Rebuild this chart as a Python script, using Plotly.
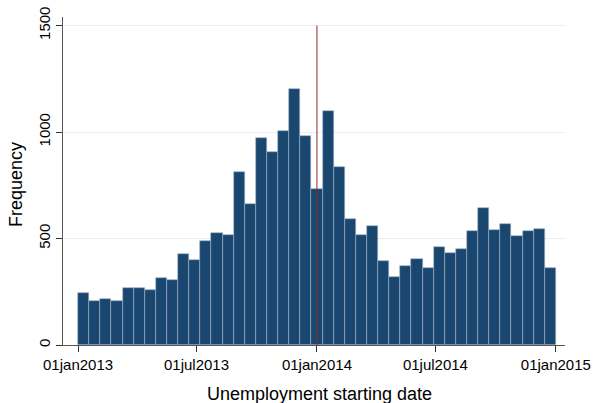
import datetime as dt
import plotly.graph_objects as go

# Data: histogram of unemployment starting dates (43 bins, Stata-style)
bin_start = "2013-01-01"
bin_end = "2014-12-31"
frequencies = [244, 205, 216, 205, 268, 269, 260, 315, 307, 426, 398, 490, 526, 518,
               811, 664, 971, 908, 1007, 1204, 979, 731, 1098, 836, 593, 517, 561, 395,
               321, 373, 404, 360, 462, 432, 449, 537, 645, 540, 570, 514, 534, 543, 362]
tick_dates = ["2013-01-01", "2013-07-01", "2014-01-01", "2014-07-01", "2015-01-01"]
tick_labels = ["01jan2013", "01jul2013", "01jan2014", "01jul2014", "01jan2015"]
y_ticks = [0, 500, 1000, 1500]
cutoff_date = "2014-01-01"
y_max = 1540

start = dt.datetime.fromisoformat(bin_start)
end = dt.datetime.fromisoformat(bin_end) + dt.timedelta(days=1)
n = len(frequencies)
w = (end - start) / n
centers = [(start + w * (i + 0.5)).isoformat() for i in range(n)]
width_ms = w.total_seconds() * 1000

font_family = "Liberation Sans, Arial, sans-serif"

fig = go.Figure()
fig.add_trace(go.Bar(
    x=centers, y=frequencies, width=[width_ms] * n,
    marker=dict(color="#1a476f", line=dict(color="#9fb2c6", width=0.6)),
    showlegend=False,
))

fig.add_shape(type="line", xref="x", yref="y", x0=cutoff_date, x1=cutoff_date,
              y0=0, y1=1500, line=dict(color="#8b2a2a", width=1))

fig.update_layout(
    width=596, height=403,
    margin=dict(l=63, r=31, t=17, b=58),
    plot_bgcolor="white", paper_bgcolor="white",
    bargap=0,
    font=dict(family=font_family, color="black", size=15),
    xaxis=dict(
        type="date",
        range=["2012-12-09", "2015-01-15"],
        tickvals=tick_dates, ticktext=tick_labels,
        ticks="outside", ticklen=6, tickcolor="#333333",
        showline=True, linecolor="#555555", linewidth=1,
        showgrid=False, zeroline=False,
        tickfont=dict(size=15),
        ticklabeloverflow="allow",
        automargin=False,
    ),
    yaxis=dict(
        range=[0, y_max],
        tickvals=y_ticks, ticktext=[str(v) for v in y_ticks],
        tickangle=-90,
        ticks="outside", ticklen=6, tickcolor="#333333",
        showline=True, linecolor="#555555", linewidth=1,
        showgrid=True, gridcolor="#e6eef0", gridwidth=1,
        zeroline=False,
        tickfont=dict(size=15),
        ticklabeloverflow="allow",
        automargin=False,
    ),
    annotations=[
        dict(text="Unemployment starting date", xref="paper", yref="paper",
             x=(319 - 63) / 502, y=-(394 - 345) / 328, xanchor="center", yanchor="middle",
             showarrow=False, font=dict(size=18)),
        dict(text="Frequency", xref="paper", yref="paper", textangle=-90,
             x=-(63 - 16) / 502, y=(345 - 185) / 328, xanchor="center", yanchor="middle",
             showarrow=False, font=dict(size=18)),
    ],
)

fig.write_html("out.html",
               config={"displayModeBar": False},
               post_script="document.body.style.margin='0';document.body.style.overflow='hidden';")
